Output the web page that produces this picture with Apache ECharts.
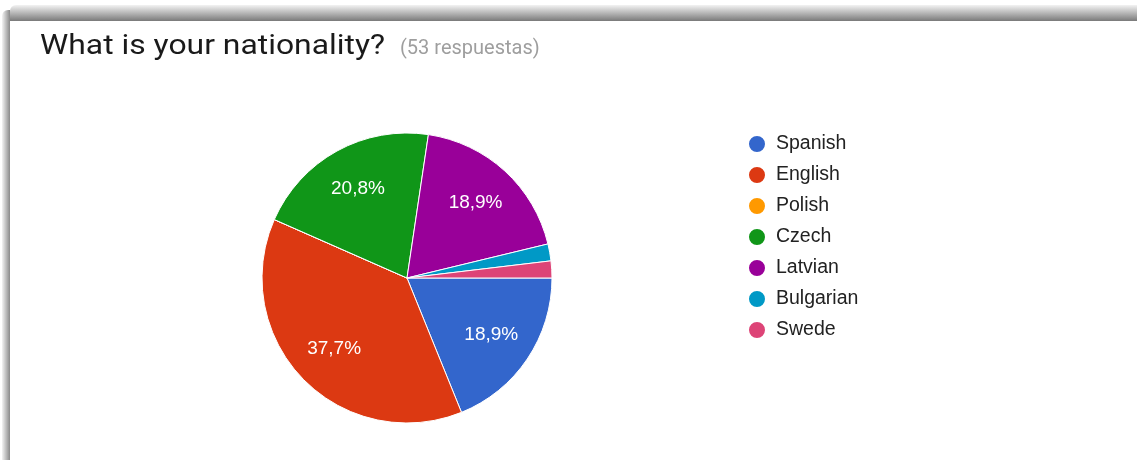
<!DOCTYPE html>
<html><head><meta charset="utf-8">
<script src="https://cdn.jsdelivr.net/npm/echarts@6/dist/echarts.min.js"></script>
<style>html,body{margin:0;padding:0;background:#fff}#c{width:1137px;height:460px}</style>
</head><body><div id="c"></div>
<script>
var categories = ['Spanish', 'English', 'Polish', 'Czech', 'Latvian', 'Bulgarian', 'Swede'];
var counts = [10, 20, 0, 11, 10, 1, 1];
var colors = ['#3366cc', '#dc3912', '#ff9900', '#109618', '#990099', '#0099c6', '#dd4477'];
var titleText = 'What is your nationality?';
var subText = '(53 respuestas)';

var total = counts.reduce(function (a, b) { return a + b; }, 0);
var data = categories.map(function (n, i) { return { name: n, value: counts[i] }; });
var chart = echarts.init(document.getElementById('c'));
var R = 145, CX = 407, CY = 278;
chart.setOption({
  animation: false,
  backgroundColor: '#ffffff',
  color: colors,
  graphic: [
    { type: 'rect', shape: { x: 10, y: 5, width: 1137, height: 16, r: [6, 0, 0, 0] }, z: -10,
      style: { fill: new echarts.graphic.LinearGradient(0, 0, 0, 1, [{ offset: 0, color: '#f3f3f3' }, { offset: 1, color: '#7a7a7a' }]) } },
    { type: 'rect', shape: { x: 2, y: 10, width: 8, height: 460, r: [6, 0, 0, 0] }, z: -10,
      style: { fill: new echarts.graphic.LinearGradient(0, 0, 1, 0, [{ offset: 0, color: '#f3f3f3' }, { offset: 1, color: '#8a8a8a' }]) } },
    { type: 'rect', shape: { x: 10, y: 21, width: 1137, height: 460 }, z: -9, style: { fill: '#ffffff' } },
    { type: 'text', x: 40, y: 34, scaleX: 1.18, originX: 0, originY: 0,
      style: { text: titleText, fontFamily: 'Roboto', fontSize: 27, fill: '#1a1a1a', verticalAlign: 'top' } },
    { type: 'text', x: 400, y: 39,
      style: { text: subText, fontFamily: 'Roboto', fontSize: 20, fill: '#9e9e9e', verticalAlign: 'top' } }
  ],
  legend: {
    orient: 'vertical', left: 742, top: 129, icon: 'circle', itemWidth: 18, itemHeight: 18, itemGap: 11,
    data: categories,
    textStyle: { fontFamily: 'Liberation Sans', fontSize: 19.5, color: '#222222', padding: [0, 0, 0, 5] }
  },
  series: [
    {
      type: 'pie', center: [CX, CY], radius: [0, R], startAngle: 0, clockwise: true,
      data: data, label: { show: false }, labelLine: { show: false },
      itemStyle: { borderColor: '#ffffff', borderWidth: 1 }, emphasis: { disabled: true }
    },
    {
      type: 'pie', center: [CX, CY], radius: [R * 0.36, R], startAngle: 0, clockwise: true, silent: true,
      data: data, z: 3,
      itemStyle: { color: 'rgba(0,0,0,0)', borderWidth: 0 },
      labelLine: { show: false },
      label: {
        show: true, position: 'inside', color: '#ffffff', fontFamily: 'Liberation Sans', fontSize: 19,
        formatter: function (p) { var pc = p.value / total * 100; return pc < 5 ? '' : pc.toFixed(1).replace('.', ',') + '%'; }
      }
    }
  ]
});
</script></body></html>
